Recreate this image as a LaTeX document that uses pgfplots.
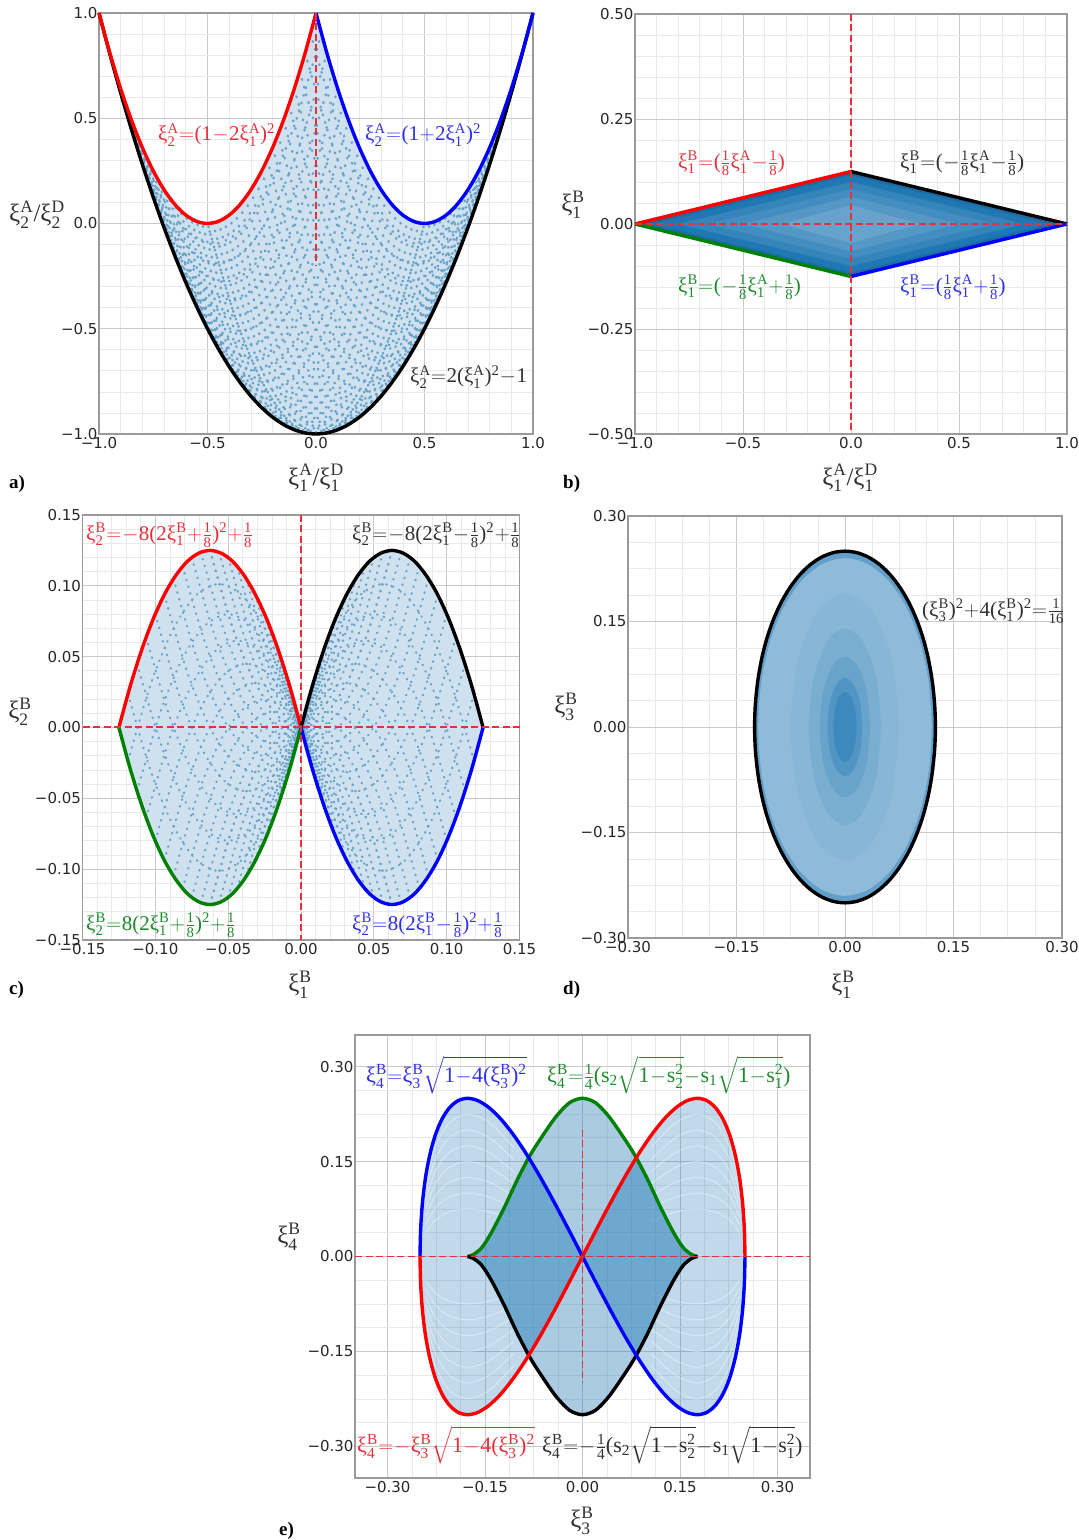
\documentclass[border=0pt]{standalone}
\usepackage{amsmath}
\usepackage{fontspec}
\usepackage{pgfplots}
\usepackage{pgfplotstable}
\pgfplotsset{compat=1.18}
\setmainfont{Liberation Serif}
\newfontfamily\tickf{DejaVu Sans}
\definecolor{mj}{HTML}{C9C9C9}
\definecolor{mn}{HTML}{E9E9E9}
\definecolor{bx}{HTML}{9A9A9A}
\definecolor{dotc}{HTML}{6AA3CA}
\definecolor{base}{HTML}{CFE1EE}
\definecolor{mpl}{HTML}{1F77B4}
\definecolor{tred}{HTML}{E8303A}
\definecolor{tblue}{HTML}{3030E8}
\definecolor{tgreen}{HTML}{1E8A2E}
\definecolor{tblack}{HTML}{303030}
\newcommand\xx[2]{ξ$_{\text{#1}}^{\text{#2}}$}
\newcommand\eq{\kern.5pt$=$\kern.5pt}
\newcommand\m{\kern.5pt$-$\kern.5pt}
\newcommand\pl{\kern.5pt$+$\kern.5pt}
\newcommand\sq{$^{\text{2}}$}
\newcommand\fr[2]{$\frac{\text{#1}}{\text{#2}}$}
\newcommand\sr[1]{s$_{\text{#1}}$$\sqrt{\text{1\m s$_{\text{#1}}^{\text{2}}$}}$}
\newcommand\lab[4]{\node[anchor=west,inner sep=0pt,text=#3,font=\fontsize{21}{25}\selectfont] at ({#1pt},{1540pt-#2pt}) {#4};}
\newcommand\labe[4]{\node[anchor=west,inner sep=0pt,text=#3,font=\fontsize{22}{26}\selectfont] at ({#1pt},{1540pt-#2pt}) {#4};}
\newcommand\axl[3]{\node[anchor=center,inner sep=0pt,text=tblack,font=\fontsize{25}{29}\selectfont] at ({#1pt},{1540pt-#2pt}) {#3};}
\newcommand\pan[3]{\node[anchor=west,inner sep=0pt,text=black,font=\fontsize{19}{22}\selectfont\bfseries] at ({#1pt},{1540pt-#2pt}) {#3};}
\pgfplotsset{
 pan/.style={scale only axis,clip=false,axis line style={draw=bx,line width=1.4pt},
  grid=both,major grid style={draw=mj,line width=.9pt},minor grid style={draw=mn,line width=.7pt},
  major tick length=0pt,minor tick length=0pt,
  tick label style={font=\tickf\fontsize{15}{15}\selectfont,text=black!85},
  yticklabel style={xshift=2pt}},
 arc/.style={no markers,smooth,dotc,line width=2.5pt,line cap=round,dash pattern=on .7pt off 7.3pt,unbounded coords=jump},
 wht/.style={no markers,smooth,white,opacity=.38,line width=1pt,unbounded coords=jump},
 edge/.style={no markers,smooth,line width=3.4pt},
 rd/.style={no markers,sharp plot,color=tred,line width=1.8pt,dash pattern=on 7pt off 3.5pt},
}
\pgfplotstableread{
x y
-.5 0
-.375 -.4375
-.25 -.75
-.125 -.9375
0 -1
.125 -.9375
.25 -.75
.375 -.4375
.5 0
nan nan
-.475 .0025
-.35 -.435
-.225 -.7475
-.1 -.935
.025 -.9975
.15 -.935
.275 -.7475
.4 -.435
.525 .0025
nan nan
-.45 .01
-.325 -.4275
-.2 -.74
-.075 -.9275
.05 -.99
.175 -.9275
.3 -.74
.425 -.4275
.55 .01
nan nan
-.425 .0225
-.3 -.415
-.175 -.7275
-.05 -.915
.075 -.9775
.2 -.915
.325 -.7275
.45 -.415
.575 .0225
nan nan
-.4 .04
-.275 -.3975
-.15 -.71
-.025 -.8975
.1 -.96
.225 -.8975
.35 -.71
.475 -.3975
.6 .04
nan nan
-.375 .0625
-.25 -.375
-.125 -.6875
0 -.875
.125 -.9375
.25 -.875
.375 -.6875
.5 -.375
.625 .0625
nan nan
-.35 .09
-.225 -.3475
-.1 -.66
.025 -.8475
.15 -.91
.275 -.8475
.4 -.66
.525 -.3475
.65 .09
nan nan
-.325 .1225
-.2 -.315
-.075 -.6275
.05 -.815
.175 -.8775
.3 -.815
.425 -.6275
.55 -.315
.675 .1225
nan nan
-.3 .16
-.175 -.2775
-.05 -.59
.075 -.7775
.2 -.84
.325 -.7775
.45 -.59
.575 -.2775
.7 .16
nan nan
-.275 .2025
-.15 -.235
-.025 -.5475
.1 -.735
.225 -.7975
.35 -.735
.475 -.5475
.6 -.235
.725 .2025
nan nan
-.25 .25
-.125 -.1875
0 -.5
.125 -.6875
.25 -.75
.375 -.6875
.5 -.5
.625 -.1875
.75 .25
nan nan
-.225 .3025
-.1 -.135
.025 -.4475
.15 -.635
.275 -.6975
.4 -.635
.525 -.4475
.65 -.135
.775 .3025
nan nan
-.2 .36
-.075 -.0775
.05 -.39
.175 -.5775
.3 -.64
.425 -.5775
.55 -.39
.675 -.0775
.8 .36
nan nan
-.175 .4225
-.05 -.015
.075 -.3275
.2 -.515
.325 -.5775
.45 -.515
.575 -.3275
.7 -.015
.825 .4225
nan nan
-.15 .49
-.025 .0525
.1 -.26
.225 -.4475
.35 -.51
.475 -.4475
.6 -.26
.725 .0525
.85 .49
nan nan
-.125 .5625
0 .125
.125 -.1875
.25 -.375
.375 -.4375
.5 -.375
.625 -.1875
.75 .125
.875 .5625
nan nan
-.1 .64
.025 .2025
.15 -.11
.275 -.2975
.4 -.36
.525 -.2975
.65 -.11
.775 .2025
.9 .64
nan nan
-.075 .7225
.05 .285
.175 -.0275
.3 -.215
.425 -.2775
.55 -.215
.675 -.0275
.8 .285
.925 .7225
nan nan
-.05 .81
.075 .3725
.2 .06
.325 -.1275
.45 -.19
.575 -.1275
.7 .06
.825 .3725
.95 .81
nan nan
-.025 .9025
.1 .465
.225 .1525
.35 -.035
.475 -.0975
.6 -.035
.725 .1525
.85 .465
.975 .9025
}\arcsA
\pgfplotstableread{
x y
-.0625 -.125
-.0469 -.0703
-.0313 -.0313
-.0156 -.0078
0 0
.0156 -.0078
.0313 -.0313
.0469 -.0703
.0625 -.125
nan nan
-.0688 -.1238
-.0531 -.0691
-.0375 -.03
-.0219 -.0066
-.0063 .0013
.0094 -.0066
.025 -.03
.0406 -.0691
.0563 -.1238
nan nan
-.075 -.12
-.0594 -.0653
-.0438 -.0263
-.0281 -.0028
-.0125 .005
.0031 -.0028
.0188 -.0263
.0344 -.0653
.05 -.12
nan nan
-.0813 -.1138
-.0656 -.0591
-.05 -.02
-.0344 .0034
-.0188 .0113
-.0031 .0034
.0125 -.02
.0281 -.0591
.0438 -.1138
nan nan
-.0875 -.105
-.0719 -.0503
-.0563 -.0113
-.0406 .0122
-.025 .02
-.0094 .0122
.0063 -.0113
.0219 -.0503
.0375 -.105
nan nan
-.0938 -.0938
-.0781 -.0391
-.0625 0
-.0469 .0234
-.0313 .0313
-.0156 .0234
0 0
.0156 -.0391
.0313 -.0938
nan nan
-.1 -.08
-.0844 -.0253
-.0688 .0137
-.0531 .0372
-.0375 .045
-.0219 .0372
-.0063 .0137
.0094 -.0253
.025 -.08
nan nan
-.1063 -.0638
-.0906 -.0091
-.075 .03
-.0594 .0534
-.0438 .0613
-.0281 .0534
-.0125 .03
.0031 -.0091
.0188 -.0638
nan nan
-.1125 -.045
-.0969 .0097
-.0813 .0488
-.0656 .0722
-.05 .08
-.0344 .0722
-.0188 .0488
-.0031 .0097
.0125 -.045
nan nan
-.1188 -.0238
-.1031 .0309
-.0875 .0699
-.0719 .0934
-.0563 .1013
-.0406 .0934
-.025 .0699
-.0094 .0309
.0063 -.0238
}\arcsC
\pgfplotstableread{
x y
-.2415 .1125
-.2266 .1724
-.2048 .2114
-.1768 .225
-.1434 .2114
-.1057 .1724
nan nan
-.2415 .1
-.2266 .1532
-.2048 .1879
-.1768 .2
-.1434 .1879
-.1057 .1532
nan nan
-.2415 .0875
-.2266 .1341
-.2048 .1644
-.1768 .175
-.1434 .1644
-.1057 .1341
nan nan
-.2415 .075
-.2266 .1149
-.2048 .1409
-.1768 .15
-.1434 .1409
-.1057 .1149
nan nan
-.2415 .0625
-.2266 .0958
-.2048 .1175
-.1768 .125
-.1434 .1175
-.1057 .0958
nan nan
-.2415 .05
-.2266 .0766
-.2048 .094
-.1768 .1
-.1434 .094
-.1057 .0766
nan nan
-.2415 .0375
-.2266 .0575
-.2048 .0705
-.1768 .075
-.1434 .0705
-.1057 .0575
}\arcsE
\begin{document}
\begin{tikzpicture}
\path[use as bounding box] (0,0) rectangle (1079pt,1540pt);
% ---------- a
\begin{axis}[pan,at={(99pt,1106pt)},anchor=south west,width=434pt,height=421pt,
 xmin=-1,xmax=1,ymin=-1,ymax=1,xtick={-1,-.5,0,.5,1},ytick={-1,-.5,0,.5,1},minor tick num=4,
 xticklabels={−1.0,−0.5,0.0,0.5,1.0},yticklabels={−1.0,−0.5,0.0,0.5,1.0}]
\addplot[draw=none,fill=base] coordinates {(-1,1)(-.9,.62)(-.8,.28)(-.7,-.02)(-.6,-.28)(-.5,-.5)(-.4,-.68)(-.3,-.82)(-.2,-.92)(-.1,-.98)(0,-1)(.1,-.98)(.2,-.92)(.3,-.82)(.4,-.68)(.5,-.5)(.6,-.28)(.7,-.02)(.8,.28)(.9,.62)(1,1)(.9,.64)(.8,.36)(.7,.16)(.6,.04)(.5,0)(.4,.04)(.3,.16)(.2,.36)(.1,.64)(0,1)(-.1,.64)(-.2,.36)(-.3,.16)(-.4,.04)(-.5,0)(-.6,.04)(-.7,.16)(-.8,.36)(-.9,.64)} -- cycle;
\addplot[arc] table[x=x,y=y] {\arcsA};
\addplot[arc] table[x expr=-\thisrowno{0},y index=1] {\arcsA};
\addplot[edge,black] coordinates {(-1,1)(-.95,.805)(-.9,.62)(-.85,.445)(-.8,.28)(-.75,.125)(-.7,-.02)(-.65,-.155)(-.6,-.28)(-.55,-.395)(-.5,-.5)(-.45,-.595)(-.4,-.68)(-.35,-.755)(-.3,-.82)(-.25,-.875)(-.2,-.92)(-.15,-.955)(-.1,-.98)(-.05,-.995)(0,-1)(.05,-.995)(.1,-.98)(.15,-.955)(.2,-.92)(.25,-.875)(.3,-.82)(.35,-.755)(.4,-.68)(.45,-.595)(.5,-.5)(.55,-.395)(.6,-.28)(.65,-.155)(.7,-.02)(.75,.125)(.8,.28)(.85,.445)(.9,.62)(.95,.805)(1,1)};
\addplot[edge,red] coordinates {(-1,1)(-.95,.81)(-.9,.64)(-.85,.49)(-.8,.36)(-.75,.25)(-.7,.16)(-.65,.09)(-.6,.04)(-.55,.01)(-.5,0)(-.45,.01)(-.4,.04)(-.35,.09)(-.3,.16)(-.25,.25)(-.2,.36)(-.15,.49)(-.1,.64)(-.05,.81)(0,1)};
\addplot[edge,blue] coordinates {(0,1)(.05,.81)(.1,.64)(.15,.49)(.2,.36)(.25,.25)(.3,.16)(.35,.09)(.4,.04)(.45,.01)(.5,0)(.55,.01)(.6,.04)(.65,.09)(.7,.16)(.75,.25)(.8,.36)(.85,.49)(.9,.64)(.95,.81)(1,1)};
\addplot[rd] coordinates {(0,1)(0,-.2)};
\end{axis}
% ---------- b
\begin{axis}[pan,at={(635pt,1106pt)},anchor=south west,width=432pt,height=420pt,
 xmin=-1,xmax=1,ymin=-.5,ymax=.5,xtick={-1,-.5,0,.5,1},ytick={-.5,-.25,0,.25,.5},minor tick num=4,
 xticklabels={−1.0,−0.5,0.0,0.5,1.0},yticklabels={−0.50,−0.25,0.00,0.25,0.50}]
\addplot[draw=none,fill=mpl!90!black] coordinates {(-1,0)(0,.125)(1,0)(0,-.125)} -- cycle;
\addplot[draw=none,fill=mpl] coordinates {(-.92,0)(0,.116)(.92,0)(0,-.116)} -- cycle;
\addplot[draw=none,fill=mpl!90!white] coordinates {(-.8,0)(0,.1)(.8,0)(0,-.1)} -- cycle;
\addplot[draw=none,fill=mpl!84!white] coordinates {(-.66,0)(0,.083)(.66,0)(0,-.083)} -- cycle;
\addplot[draw=none,fill=mpl!76!white] coordinates {(-.5,0)(0,.065)(.5,0)(0,-.065)} -- cycle;
\addplot[draw=none,fill=mpl!68!white] coordinates {(-.32,0)(0,.045)(.32,0)(0,-.045)} -- cycle;
\addplot[edge,red,sharp plot] coordinates {(-1,0)(0,.125)};
\addplot[edge,black,sharp plot] coordinates {(0,.125)(1,0)};
\addplot[edge,green!50!black,sharp plot] coordinates {(-1,0)(0,-.125)};
\addplot[edge,blue,sharp plot] coordinates {(0,-.125)(1,0)};
\addplot[rd] coordinates {(0,.5)(0,-.5)};
\addplot[rd] coordinates {(-1,0)(1,0)};
\end{axis}
% ---------- c
\begin{axis}[pan,at={(82.5pt,600pt)},anchor=south west,width=437pt,height=425pt,
 xmin=-.15,xmax=.15,ymin=-.15,ymax=.15,xtick={-.15,-.1,-.05,0,.05,.1,.15},ytick={-.15,-.1,-.05,0,.05,.1,.15},minor tick num=4,
 xticklabels={−0.15,−0.10,−0.05,0.00,0.05,0.10,0.15},yticklabels={−0.15,−0.10,−0.05,0.00,0.05,0.10,0.15}]
\addplot[draw=none,fill=base,smooth] coordinates {(-.125,0)(-.1094,.0547)(-.0938,.0938)(-.0781,.1172)(-.0625,.125)(-.0469,.1172)(-.0313,.0938)(-.0156,.0547)(0,0)(-.0156,-.0547)(-.0313,-.0938)(-.0469,-.1172)(-.0625,-.125)(-.0781,-.1172)(-.0938,-.0938)(-.1094,-.0547)(-.125,0)};
\addplot[draw=none,fill=base,smooth] coordinates {(.125,0)(.1094,.0547)(.0938,.0938)(.0781,.1172)(.0625,.125)(.0469,.1172)(.0313,.0938)(.0156,.0547)(0,0)(.0156,-.0547)(.0313,-.0938)(.0469,-.1172)(.0625,-.125)(.0781,-.1172)(.0938,-.0938)(.1094,-.0547)(.125,0)};
\addplot[arc,line width=2.2pt,dash pattern=on .6pt off 6.4pt] table[x=x,y=y] {\arcsC};
\addplot[arc,line width=2.2pt,dash pattern=on .6pt off 6.4pt] table[x expr=-\thisrowno{0},y index=1] {\arcsC};
\addplot[arc,line width=2.2pt,dash pattern=on .6pt off 6.4pt] table[x index=0,y expr=-\thisrowno{1}] {\arcsC};
\addplot[arc,line width=2.2pt,dash pattern=on .6pt off 6.4pt] table[x expr=-\thisrowno{0},y expr=-\thisrowno{1}] {\arcsC};
\addplot[edge,red] coordinates {(-.125,0)(-.1172,.0293)(-.1094,.0547)(-.1016,.0762)(-.0938,.0938)(-.0859,.1074)(-.0781,.1172)(-.0703,.123)(-.0625,.125)(-.0547,.123)(-.0469,.1172)(-.0391,.1074)(-.0313,.0938)(-.0234,.0762)(-.0156,.0547)(-.0078,.0293)(0,0)};
\addplot[edge,black] coordinates {(.125,0)(.1172,.0293)(.1094,.0547)(.1016,.0762)(.0938,.0938)(.0859,.1074)(.0781,.1172)(.0703,.123)(.0625,.125)(.0547,.123)(.0469,.1172)(.0391,.1074)(.0313,.0938)(.0234,.0762)(.0156,.0547)(.0078,.0293)(0,0)};
\addplot[edge,green!50!black] coordinates {(-.125,0)(-.1172,-.0293)(-.1094,-.0547)(-.1016,-.0762)(-.0938,-.0938)(-.0859,-.1074)(-.0781,-.1172)(-.0703,-.123)(-.0625,-.125)(-.0547,-.123)(-.0469,-.1172)(-.0391,-.1074)(-.0313,-.0938)(-.0234,-.0762)(-.0156,-.0547)(-.0078,-.0293)(0,0)};
\addplot[edge,blue] coordinates {(.125,0)(.1172,-.0293)(.1094,-.0547)(.1016,-.0762)(.0938,-.0938)(.0859,-.1074)(.0781,-.1172)(.0703,-.123)(.0625,-.125)(.0547,-.123)(.0469,-.1172)(.0391,-.1074)(.0313,-.0938)(.0234,-.0762)(.0156,-.0547)(.0078,-.0293)(0,0)};
\addplot[rd] coordinates {(0,.15)(0,-.15)};
\addplot[rd] coordinates {(-.15,.0002)(.15,.0002)};
\end{axis}
% ---------- d
\begin{axis}[pan,at={(628pt,602pt)},anchor=south west,width=434pt,height=422pt,
 xmin=-.3,xmax=.3,ymin=-.3,ymax=.3,xtick={-.3,-.15,0,.15,.3},ytick={-.3,-.15,0,.15,.3},minor tick num=3,
 xticklabels={−0.30,−0.15,0.00,0.15,0.30},yticklabels={−0.30,−0.15,0.00,0.15,0.30}]
\addplot[draw=none,smooth,fill=mpl!70!white] coordinates {(.125,0)(.1207,.0647)(.1083,.125)(.0884,.1768)(.0625,.2165)(.0324,.2415)(0,.25)(-.0324,.2415)(-.0625,.2165)(-.0884,.1768)(-.1083,.125)(-.1207,.0647)(-.125,0)(-.1207,-.0647)(-.1083,-.125)(-.0884,-.1768)(-.0625,-.2165)(-.0324,-.2415)(0,-.25)(.0324,-.2415)(.0625,-.2165)(.0884,-.1768)(.1083,-.125)(.1207,-.0647)(.125,0)};
\addplot[draw=none,smooth,fill=mpl!50!white] coordinates {(.12,0)(.1159,.0621)(.1039,.12)(.0849,.1697)(.06,.2078)(.0311,.2318)(0,.24)(-.0311,.2318)(-.06,.2078)(-.0849,.1697)(-.1039,.12)(-.1159,.0621)(-.12,0)(-.1159,-.0621)(-.1039,-.12)(-.0849,-.1697)(-.06,-.2078)(-.0311,-.2318)(0,-.24)(.0311,-.2318)(.06,-.2078)(.0849,-.1697)(.1039,-.12)(.1159,-.0621)(.12,0)};
\addplot[draw=none,smooth,fill=mpl,fill opacity=.07] coordinates {(.075,0)(.065,.095)(.0375,.1645)(0,.19)(-.0375,.1645)(-.065,.095)(-.075,0)(-.065,-.095)(-.0375,-.1645)(0,-.19)(.0375,-.1645)(.065,-.095)(.075,0)};
\addplot[draw=none,smooth,fill=mpl,fill opacity=.12] coordinates {(.05,0)(.0433,.07)(.025,.1212)(0,.14)(-.025,.1212)(-.0433,.07)(-.05,0)(-.0433,-.07)(-.025,-.1212)(0,-.14)(.025,-.1212)(.0433,-.07)(.05,0)};
\addplot[draw=none,smooth,fill=mpl,fill opacity=.2] coordinates {(.035,0)(.0303,.05)(.0175,.0866)(0,.1)(-.0175,.0866)(-.0303,.05)(-.035,0)(-.0303,-.05)(-.0175,-.0866)(0,-.1)(.0175,-.0866)(.0303,-.05)(.035,0)};
\addplot[draw=none,smooth,fill=mpl,fill opacity=.3] coordinates {(.024,0)(.0208,.035)(.012,.0606)(0,.07)(-.012,.0606)(-.0208,.035)(-.024,0)(-.0208,-.035)(-.012,-.0606)(0,-.07)(.012,-.0606)(.0208,-.035)(.024,0)};
\addplot[draw=none,smooth,fill=mpl,fill opacity=.4] coordinates {(.016,0)(.0139,.025)(.008,.0433)(0,.05)(-.008,.0433)(-.0139,.025)(-.016,0)(-.0139,-.025)(-.008,-.0433)(0,-.05)(.008,-.0433)(.0139,-.025)(.016,0)};
\addplot[edge,black] coordinates {(.1207,-.0647)(.1239,-.0326)(.125,0)(.1239,.0326)(.1207,.0647)(.1155,.0957)(.1083,.125)(.0992,.1522)(.0884,.1768)(.0761,.1983)(.0625,.2165)(.0478,.231)(.0324,.2415)(.0163,.2479)(0,.25)(-.0163,.2479)(-.0324,.2415)(-.0478,.231)(-.0625,.2165)(-.0761,.1983)(-.0884,.1768)(-.0992,.1522)(-.1083,.125)(-.1155,.0957)(-.1207,.0647)(-.1239,.0326)(-.125,0)(-.1239,-.0326)(-.1207,-.0647)(-.1155,-.0957)(-.1083,-.125)(-.0992,-.1522)(-.0884,-.1768)(-.0761,-.1983)(-.0625,-.2165)(-.0478,-.231)(-.0324,-.2415)(-.0163,-.2479)(0,-.25)(.0163,-.2479)(.0324,-.2415)(.0478,-.231)(.0625,-.2165)(.0761,-.1983)(.0884,-.1768)(.0992,-.1522)(.1083,-.125)(.1155,-.0957)(.1207,-.0647)(.1239,-.0326)};
\end{axis}
% ---------- e
\begin{axis}[pan,at={(355pt,62pt)},anchor=south west,width=455pt,height=443pt,
 xmin=-.35,xmax=.35,ymin=-.35,ymax=.35,xtick={-.3,-.15,0,.15,.3},ytick={-.3,-.15,0,.15,.3},minor tick num=3,
 xticklabels={−0.30,−0.15,0.00,0.15,0.30},yticklabels={−0.30,−0.15,0.00,0.15,0.30}]
\addplot[draw=none,smooth,fill=mpl,fill opacity=.28] coordinates {(-.25,0)(-.249,.0434)(-.2462,.0855)(-.2415,.125)(-.2349,.1607)(-.2266,.1915)(-.2165,.2165)(-.2048,.2349)(-.1915,.2462)(-.1768,.25)(-.1607,.2462)(-.1434,.2349)(-.125,.2165)(-.1057,.1915)(-.0855,.1607)(-.0647,.125)(-.0434,.0855)(-.0218,.0434)(0,0)};
\addplot[draw=none,smooth,fill=mpl,fill opacity=.28] coordinates {(-.25,0)(-.249,-.0434)(-.2462,-.0855)(-.2415,-.125)(-.2349,-.1607)(-.2266,-.1915)(-.2165,-.2165)(-.2048,-.2349)(-.1915,-.2462)(-.1768,-.25)(-.1607,-.2462)(-.1434,-.2349)(-.125,-.2165)(-.1057,-.1915)(-.0855,-.1607)(-.0647,-.125)(-.0434,-.0855)(-.0218,-.0434)(0,0)};
\addplot[draw=none,smooth,fill=mpl,fill opacity=.28] coordinates {(.25,0)(.249,.0434)(.2462,.0855)(.2415,.125)(.2349,.1607)(.2266,.1915)(.2165,.2165)(.2048,.2349)(.1915,.2462)(.1768,.25)(.1607,.2462)(.1434,.2349)(.125,.2165)(.1057,.1915)(.0855,.1607)(.0647,.125)(.0434,.0855)(.0218,.0434)(0,0)};
\addplot[draw=none,smooth,fill=mpl,fill opacity=.28] coordinates {(.25,0)(.249,-.0434)(.2462,-.0855)(.2415,-.125)(.2349,-.1607)(.2266,-.1915)(.2165,-.2165)(.2048,-.2349)(.1915,-.2462)(.1768,-.25)(.1607,-.2462)(.1434,-.2349)(.125,-.2165)(.1057,-.1915)(.0855,-.1607)(.0647,-.125)(.0434,-.0855)(.0218,-.0434)(0,0)};
\addplot[wht] table[x=x,y=y] {\arcsE};
\addplot[wht] table[x expr=-\thisrowno{0},y index=1] {\arcsE};
\addplot[wht] table[x index=0,y expr=-\thisrowno{1}] {\arcsE};
\addplot[wht] table[x expr=-\thisrowno{0},y expr=-\thisrowno{1}] {\arcsE};
\addplot[draw=none,smooth,fill=mpl,fill opacity=.38] coordinates {(-.177,0)(-.168,.003)(-.155,.014)(-.14,.038)(-.12,.078)(-.1,.122)(-.08,.161)(-.06,.193)(-.04,.222)(-.02,.243)(0,.25)(.02,.243)(.04,.222)(.06,.193)(.08,.161)(.1,.122)(.12,.078)(.14,.038)(.155,.014)(.168,.003)(.177,0)(.168,-.003)(.155,-.014)(.14,-.038)(.12,-.078)(.1,-.122)(.08,-.161)(.06,-.193)(.04,-.222)(.02,-.243)(0,-.25)(-.02,-.243)(-.04,-.222)(-.06,-.193)(-.08,-.161)(-.1,-.122)(-.12,-.078)(-.14,-.038)(-.155,-.014)(-.168,-.003)(-.177,0)};
\addplot[draw=none,fill=mpl,fill opacity=.2] coordinates {(-.177,0)(-.168,.003)(-.155,.014)(-.14,.038)(-.12,.078)(-.1,.122)(-.0835,.156)(-.0434,.0855)(0,0)(-.0434,-.0855)(-.0835,-.156)(-.1,-.122)(-.12,-.078)(-.14,-.038)(-.155,-.014)(-.168,-.003)} -- cycle;
\addplot[draw=none,fill=mpl,fill opacity=.2] coordinates {(.177,0)(.168,.003)(.155,.014)(.14,.038)(.12,.078)(.1,.122)(.0835,.156)(.0434,.0855)(0,0)(.0434,-.0855)(.0835,-.156)(.1,-.122)(.12,-.078)(.14,-.038)(.155,-.014)(.168,-.003)} -- cycle;
\addplot[edge,green!50!black] coordinates {(-.177,0)(-.168,.003)(-.155,.014)(-.14,.038)(-.12,.078)(-.1,.122)(-.08,.161)(-.06,.193)(-.04,.222)(-.02,.243)(0,.25)(.02,.243)(.04,.222)(.06,.193)(.08,.161)(.1,.122)(.12,.078)(.14,.038)(.155,.014)(.168,.003)(.177,0)};
\addplot[edge,black] coordinates {(-.177,0)(-.168,-.003)(-.155,-.014)(-.14,-.038)(-.12,-.078)(-.1,-.122)(-.08,-.161)(-.06,-.193)(-.04,-.222)(-.02,-.243)(0,-.25)(.02,-.243)(.04,-.222)(.06,-.193)(.08,-.161)(.1,-.122)(.12,-.078)(.14,-.038)(.155,-.014)(.168,-.003)(.177,0)};
\addplot[edge,blue] coordinates {(-.25,0)(-.249,.0434)(-.2462,.0855)(-.2415,.125)(-.2349,.1607)(-.2266,.1915)(-.2165,.2165)(-.2048,.2349)(-.1915,.2462)(-.1768,.25)(-.1607,.2462)(-.1434,.2349)(-.125,.2165)(-.1057,.1915)(-.0855,.1607)(-.0647,.125)(-.0434,.0855)(-.0218,.0434)(0,0)(.0218,-.0434)(.0434,-.0855)(.0647,-.125)(.0855,-.1607)(.1057,-.1915)(.125,-.2165)(.1434,-.2349)(.1607,-.2462)(.1768,-.25)(.1915,-.2462)(.2048,-.2349)(.2165,-.2165)(.2266,-.1915)(.2349,-.1607)(.2415,-.125)(.2462,-.0855)(.249,-.0434)(.25,0)};
\addplot[edge,red] coordinates {(-.25,0)(-.249,-.0434)(-.2462,-.0855)(-.2415,-.125)(-.2349,-.1607)(-.2266,-.1915)(-.2165,-.2165)(-.2048,-.2349)(-.1915,-.2462)(-.1768,-.25)(-.1607,-.2462)(-.1434,-.2349)(-.125,-.2165)(-.1057,-.1915)(-.0855,-.1607)(-.0647,-.125)(-.0434,-.0855)(-.0218,-.0434)(0,0)(.0218,.0434)(.0434,.0855)(.0647,.125)(.0855,.1607)(.1057,.1915)(.125,.2165)(.1434,.2349)(.1607,.2462)(.1768,.25)(.1915,.2462)(.2048,.2349)(.2165,.2165)(.2266,.1915)(.2349,.1607)(.2415,.125)(.2462,.0855)(.249,.0434)(.25,0)};
\addplot[rd] coordinates {(0,.2)(0,-.2)};
\addplot[rd] coordinates {(-.35,0)(.35,0)};
\end{axis}
% ---------- equations
\lab{158}{135}{tred}{\xx{2}{A}\eq(1\m2\xx{1}{A})\sq}
\lab{365}{135}{tblue}{\xx{2}{A}\eq(1\pl2\xx{1}{A})\sq}
\lab{410}{377}{tblack}{\xx{2}{A}\eq2(\xx{1}{A})\sq\m1}
\lab{678}{163}{tred}{\xx{1}{B}\eq(\fr18\xx{1}{A}\m\fr18)}
\lab{900}{163}{tblack}{\xx{1}{B}\eq(\m\fr18\xx{1}{A}\m\fr18)}
\lab{678}{287}{tgreen}{\xx{1}{B}\eq(\m\fr18\xx{1}{A}\pl\fr18)}
\lab{900}{287}{tblue}{\xx{1}{B}\eq(\fr18\xx{1}{A}\pl\fr18)}
\lab{86}{535}{tred}{\xx{2}{B}\eq\m8(2\xx{1}{B}\pl\fr18)\sq\pl\fr18}
\lab{352}{535}{tblack}{\xx{2}{B}\eq\m8(2\xx{1}{B}\m\fr18)\sq\pl\fr18}
\lab{86}{925}{tgreen}{\xx{2}{B}\eq8(2\xx{1}{B}\pl\fr18)\sq\pl\fr18}
\lab{352}{925}{tblue}{\xx{2}{B}\eq8(2\xx{1}{B}\m\fr18)\sq\pl\fr18}
\lab{922}{611}{tblack}{(\xx{3}{B})\sq\pl4(\xx{1}{B})\sq\eq\fr1{16}}
\labe{366}{1075}{tblue}{\xx{4}{B}\eq\xx{3}{B}$\sqrt{\text{1\m4(\xx{3}{B})\sq}}$}
\labe{547}{1075}{tgreen}{\xx{4}{B}\eq\fr14(\sr{2}\m\sr{1})}
\labe{357}{1445}{tred}{\xx{4}{B}\eq\m\xx{3}{B}$\sqrt{\text{1\m4(\xx{3}{B})\sq}}$}
\labe{542}{1445}{tblack}{\xx{4}{B}\eq\m\fr14(\sr{2}\m\sr{1})}
% ---------- axis titles
\axl{316}{478}{\xx{1}{A}/\xx{1}{D}}
\axl{37}{215}{\xx{2}{A}/\xx{2}{D}}
\axl{850}{478}{\xx{1}{A}/\xx{1}{D}}
\axl{573}{205}{\xx{1}{B}}
\axl{300}{985}{\xx{1}{B}}
\axl{20}{712}{\xx{2}{B}}
\axl{843}{985}{\xx{1}{B}}
\axl{566}{707}{\xx{3}{B}}
\axl{582}{1521}{\xx{3}{B}}
\axl{289}{1237}{\xx{4}{B}}
\pan{9}{484}{a)}
\pan{563}{484}{b)}
\pan{9}{990}{c)}
\pan{563}{990}{d)}
\pan{279}{1531}{e)}
\end{tikzpicture}
\end{document}
